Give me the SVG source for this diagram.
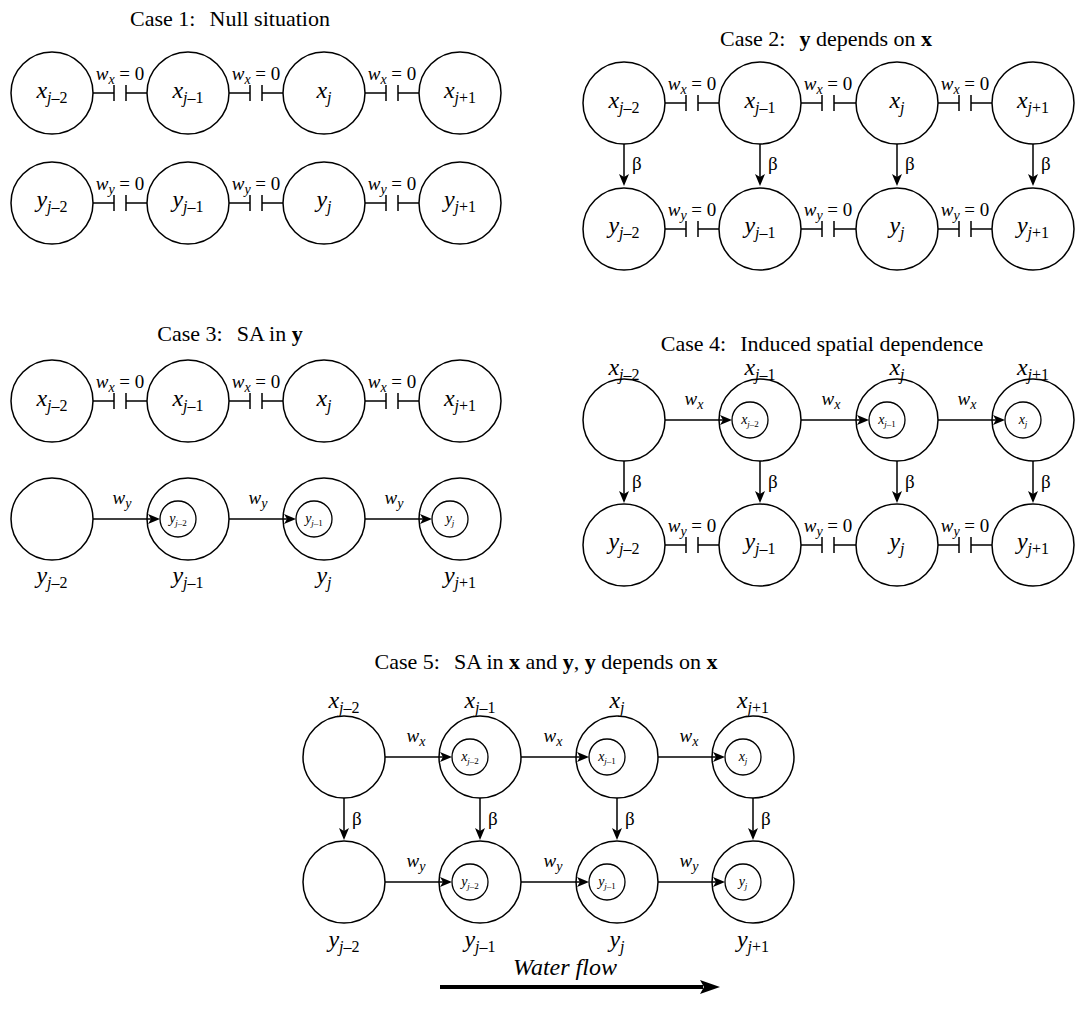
<svg xmlns="http://www.w3.org/2000/svg" width="1075" height="1022" viewBox="0 0 1075 1022">
<style>
.c{fill:none;stroke:#000;stroke-width:1.5}
.ic{fill:none;stroke:#000;stroke-width:1.3}
.e{fill:none;stroke:#000;stroke-width:1.5}
.a{marker-end:url(#ah)}
text{font-family:"Liberation Serif","Times New Roman",serif;fill:#000}
.t{font-size:22px;text-anchor:middle}
.nl{font-size:24px;text-anchor:middle}
.el{font-size:19px;text-anchor:middle}
.bl{font-size:19px}
.il{font-size:14px;text-anchor:middle}
.i{font-style:italic}
.b{font-weight:bold}
.sb{font-size:16px}
.es{font-size:14px}
.is{font-size:9px}
</style>
<defs>
<marker id="ah" markerUnits="userSpaceOnUse" markerWidth="12" markerHeight="10" refX="9" refY="5" orient="auto">
<path d="M0,0 L12,5 L0,10 L3,5 Z" fill="#000"/>
</marker>
<marker id="bh" markerUnits="userSpaceOnUse" markerWidth="20" markerHeight="14" refX="3" refY="7" orient="auto">
<path d="M0,0 L20,7 L0,14 L4,7 Z" fill="#000"/>
</marker>
</defs>

<!-- Titles -->
<g id="titles">
<text class="t" x="230" y="26">Case 1:<tspan dx="14">Null situation</tspan></text>
<text class="t" x="826" y="46">Case 2:<tspan dx="14" class="b">y</tspan> depends on <tspan class="b">x</tspan></text>
<text class="t" x="230" y="341">Case 3:<tspan dx="14">SA in </tspan><tspan class="b">y</tspan></text>
<text class="t" x="822" y="351">Case 4:<tspan dx="14">Induced spatial dependence</tspan></text>
<text class="t" x="546" y="669">Case 5:<tspan dx="14">SA in </tspan><tspan class="b">x</tspan> and <tspan class="b">y</tspan>, <tspan class="b">y</tspan> depends on <tspan class="b">x</tspan></text>
</g>

<!-- Connectors -->
<g id="connectors">
<!-- Case 1 -->
<path class="e" d="M93,93 H114 M114,85 V101 M126,85 V101 M126,93 H147 M229,93 H250 M250,85 V101 M262,85 V101 M262,93 H283 M365,93 H386 M386,85 V101 M398,85 V101 M398,93 H419"/>
<path class="e" d="M93,203 H114 M114,195 V211 M126,195 V211 M126,203 H147 M229,203 H250 M250,195 V211 M262,195 V211 M262,203 H283 M365,203 H386 M386,195 V211 M398,195 V211 M398,203 H419"/>
<!-- Case 2 -->
<path class="e" d="M665,103 H686 M686,95 V111 M698,95 V111 M698,103 H719 M801,103 H822 M822,95 V111 M834,95 V111 M834,103 H856 M938,103 H959 M959,95 V111 M971,95 V111 M971,103 H992"/>
<path class="e" d="M665,229 H686 M686,221 V237 M698,221 V237 M698,229 H719 M801,229 H822 M822,221 V237 M834,221 V237 M834,229 H856 M938,229 H959 M959,221 V237 M971,221 V237 M971,229 H992"/>
<line class="e a" x1="624" y1="144" x2="624" y2="183"/>
<line class="e a" x1="760" y1="144" x2="760" y2="183"/>
<line class="e a" x1="897" y1="144" x2="897" y2="183"/>
<line class="e a" x1="1033" y1="144" x2="1033" y2="183"/>
<!-- Case 3 -->
<path class="e" d="M93,401 H114 M114,393 V409 M126,393 V409 M126,401 H147 M229,401 H250 M250,393 V409 M262,393 V409 M262,401 H283 M365,401 H386 M386,393 V409 M398,393 V409 M398,401 H419"/>
<line class="e a" x1="93" y1="519" x2="157" y2="519"/>
<line class="e a" x1="229" y1="519" x2="293" y2="519"/>
<line class="e a" x1="365" y1="519" x2="429" y2="519"/>
<!-- Case 4 -->
<line class="e a" x1="665" y1="420" x2="729" y2="420"/>
<line class="e a" x1="801" y1="420" x2="866" y2="420"/>
<line class="e a" x1="938" y1="420" x2="1002" y2="420"/>
<line class="e a" x1="624" y1="461" x2="624" y2="500"/>
<line class="e a" x1="760" y1="461" x2="760" y2="500"/>
<line class="e a" x1="897" y1="461" x2="897" y2="500"/>
<line class="e a" x1="1033" y1="461" x2="1033" y2="500"/>
<path class="e" d="M665,545 H686 M686,537 V553 M698,537 V553 M698,545 H719 M801,545 H822 M822,537 V553 M834,537 V553 M834,545 H856 M938,545 H959 M959,537 V553 M971,537 V553 M971,545 H992"/>
<!-- Case 5 -->
<line class="e a" x1="385" y1="757" x2="449" y2="757"/>
<line class="e a" x1="521" y1="757" x2="586" y2="757"/>
<line class="e a" x1="658" y1="757" x2="722" y2="757"/>
<line class="e a" x1="344" y1="798" x2="344" y2="837"/>
<line class="e a" x1="480" y1="798" x2="480" y2="837"/>
<line class="e a" x1="617" y1="798" x2="617" y2="837"/>
<line class="e a" x1="753" y1="798" x2="753" y2="837"/>
<line class="e a" x1="385" y1="882" x2="449" y2="882"/>
<line class="e a" x1="521" y1="882" x2="586" y2="882"/>
<line class="e a" x1="658" y1="882" x2="722" y2="882"/>
<!-- Water flow -->
<line x1="440" y1="987" x2="703" y2="987" stroke="#000" stroke-width="4" marker-end="url(#bh)"/>
</g>

<!-- Connector labels -->
<g id="edge-labels">
<text class="el" x="120" y="80"><tspan class="i">w</tspan><tspan class="es i" dy="4">x</tspan><tspan dy="-4"> = 0</tspan></text>
<text class="el" x="256" y="80"><tspan class="i">w</tspan><tspan class="es i" dy="4">x</tspan><tspan dy="-4"> = 0</tspan></text>
<text class="el" x="392" y="80"><tspan class="i">w</tspan><tspan class="es i" dy="4">x</tspan><tspan dy="-4"> = 0</tspan></text>
<text class="el" x="120" y="190"><tspan class="i">w</tspan><tspan class="es i" dy="4">y</tspan><tspan dy="-4"> = 0</tspan></text>
<text class="el" x="256" y="190"><tspan class="i">w</tspan><tspan class="es i" dy="4">y</tspan><tspan dy="-4"> = 0</tspan></text>
<text class="el" x="392" y="190"><tspan class="i">w</tspan><tspan class="es i" dy="4">y</tspan><tspan dy="-4"> = 0</tspan></text>

<text class="el" x="692" y="90"><tspan class="i">w</tspan><tspan class="es i" dy="4">x</tspan><tspan dy="-4"> = 0</tspan></text>
<text class="el" x="828" y="90"><tspan class="i">w</tspan><tspan class="es i" dy="4">x</tspan><tspan dy="-4"> = 0</tspan></text>
<text class="el" x="965" y="90"><tspan class="i">w</tspan><tspan class="es i" dy="4">x</tspan><tspan dy="-4"> = 0</tspan></text>
<text class="el" x="692" y="216"><tspan class="i">w</tspan><tspan class="es i" dy="4">y</tspan><tspan dy="-4"> = 0</tspan></text>
<text class="el" x="828" y="216"><tspan class="i">w</tspan><tspan class="es i" dy="4">y</tspan><tspan dy="-4"> = 0</tspan></text>
<text class="el" x="965" y="216"><tspan class="i">w</tspan><tspan class="es i" dy="4">y</tspan><tspan dy="-4"> = 0</tspan></text>
<text class="bl" x="632" y="170">β</text>
<text class="bl" x="768" y="170">β</text>
<text class="bl" x="905" y="170">β</text>
<text class="bl" x="1041" y="170">β</text>

<text class="el" x="120" y="388"><tspan class="i">w</tspan><tspan class="es i" dy="4">x</tspan><tspan dy="-4"> = 0</tspan></text>
<text class="el" x="256" y="388"><tspan class="i">w</tspan><tspan class="es i" dy="4">x</tspan><tspan dy="-4"> = 0</tspan></text>
<text class="el" x="392" y="388"><tspan class="i">w</tspan><tspan class="es i" dy="4">x</tspan><tspan dy="-4"> = 0</tspan></text>
<text class="el" x="122" y="504"><tspan class="i">w</tspan><tspan class="es i" dy="4">y</tspan></text>
<text class="el" x="258" y="504"><tspan class="i">w</tspan><tspan class="es i" dy="4">y</tspan></text>
<text class="el" x="394" y="504"><tspan class="i">w</tspan><tspan class="es i" dy="4">y</tspan></text>

<text class="el" x="694" y="405"><tspan class="i">w</tspan><tspan class="es i" dy="4">x</tspan></text>
<text class="el" x="831" y="405"><tspan class="i">w</tspan><tspan class="es i" dy="4">x</tspan></text>
<text class="el" x="967" y="405"><tspan class="i">w</tspan><tspan class="es i" dy="4">x</tspan></text>
<text class="bl" x="632" y="488">β</text>
<text class="bl" x="768" y="488">β</text>
<text class="bl" x="905" y="488">β</text>
<text class="bl" x="1041" y="488">β</text>
<text class="el" x="692" y="532"><tspan class="i">w</tspan><tspan class="es i" dy="4">y</tspan><tspan dy="-4"> = 0</tspan></text>
<text class="el" x="828" y="532"><tspan class="i">w</tspan><tspan class="es i" dy="4">y</tspan><tspan dy="-4"> = 0</tspan></text>
<text class="el" x="965" y="532"><tspan class="i">w</tspan><tspan class="es i" dy="4">y</tspan><tspan dy="-4"> = 0</tspan></text>

<text class="el" x="416" y="742"><tspan class="i">w</tspan><tspan class="es i" dy="4">x</tspan></text>
<text class="el" x="553" y="742"><tspan class="i">w</tspan><tspan class="es i" dy="4">x</tspan></text>
<text class="el" x="689" y="742"><tspan class="i">w</tspan><tspan class="es i" dy="4">x</tspan></text>
<text class="bl" x="352" y="825">β</text>
<text class="bl" x="488" y="825">β</text>
<text class="bl" x="625" y="825">β</text>
<text class="bl" x="761" y="825">β</text>
<text class="el" x="416" y="867"><tspan class="i">w</tspan><tspan class="es i" dy="4">y</tspan></text>
<text class="el" x="553" y="867"><tspan class="i">w</tspan><tspan class="es i" dy="4">y</tspan></text>
<text class="el" x="689" y="867"><tspan class="i">w</tspan><tspan class="es i" dy="4">y</tspan></text>

<text x="565" y="975" font-size="24" font-style="italic" text-anchor="middle">Water flow</text>
</g>

<!-- Case 1 nodes -->
<g id="c1-x-jm2"><circle class="c" cx="52" cy="93" r="41"/><text class="nl" x="52" y="98"><tspan class="i">x</tspan><tspan class="sb i" dy="5">j</tspan><tspan class="sb">–2</tspan></text></g>
<g id="c1-x-jm1"><circle class="c" cx="188" cy="93" r="41"/><text class="nl" x="188" y="98"><tspan class="i">x</tspan><tspan class="sb i" dy="5">j</tspan><tspan class="sb">–1</tspan></text></g>
<g id="c1-x-j"><circle class="c" cx="324" cy="93" r="41"/><text class="nl" x="324" y="98"><tspan class="i">x</tspan><tspan class="sb i" dy="5">j</tspan></text></g>
<g id="c1-x-jp1"><circle class="c" cx="460" cy="93" r="41"/><text class="nl" x="460" y="98"><tspan class="i">x</tspan><tspan class="sb i" dy="5">j</tspan><tspan class="sb">+1</tspan></text></g>
<g id="c1-y-jm2"><circle class="c" cx="52" cy="203" r="41"/><text class="nl" x="52" y="207"><tspan class="i">y</tspan><tspan class="sb i" dy="5">j</tspan><tspan class="sb">–2</tspan></text></g>
<g id="c1-y-jm1"><circle class="c" cx="188" cy="203" r="41"/><text class="nl" x="188" y="207"><tspan class="i">y</tspan><tspan class="sb i" dy="5">j</tspan><tspan class="sb">–1</tspan></text></g>
<g id="c1-y-j"><circle class="c" cx="324" cy="203" r="41"/><text class="nl" x="324" y="207"><tspan class="i">y</tspan><tspan class="sb i" dy="5">j</tspan></text></g>
<g id="c1-y-jp1"><circle class="c" cx="460" cy="203" r="41"/><text class="nl" x="460" y="207"><tspan class="i">y</tspan><tspan class="sb i" dy="5">j</tspan><tspan class="sb">+1</tspan></text></g>

<!-- Case 2 nodes -->
<g id="c2-x-jm2"><circle class="c" cx="624" cy="103" r="41"/><text class="nl" x="624" y="108"><tspan class="i">x</tspan><tspan class="sb i" dy="5">j</tspan><tspan class="sb">–2</tspan></text></g>
<g id="c2-x-jm1"><circle class="c" cx="760" cy="103" r="41"/><text class="nl" x="760" y="108"><tspan class="i">x</tspan><tspan class="sb i" dy="5">j</tspan><tspan class="sb">–1</tspan></text></g>
<g id="c2-x-j"><circle class="c" cx="897" cy="103" r="41"/><text class="nl" x="897" y="108"><tspan class="i">x</tspan><tspan class="sb i" dy="5">j</tspan></text></g>
<g id="c2-x-jp1"><circle class="c" cx="1033" cy="103" r="41"/><text class="nl" x="1033" y="108"><tspan class="i">x</tspan><tspan class="sb i" dy="5">j</tspan><tspan class="sb">+1</tspan></text></g>
<g id="c2-y-jm2"><circle class="c" cx="624" cy="229" r="41"/><text class="nl" x="624" y="233"><tspan class="i">y</tspan><tspan class="sb i" dy="5">j</tspan><tspan class="sb">–2</tspan></text></g>
<g id="c2-y-jm1"><circle class="c" cx="760" cy="229" r="41"/><text class="nl" x="760" y="233"><tspan class="i">y</tspan><tspan class="sb i" dy="5">j</tspan><tspan class="sb">–1</tspan></text></g>
<g id="c2-y-j"><circle class="c" cx="897" cy="229" r="41"/><text class="nl" x="897" y="233"><tspan class="i">y</tspan><tspan class="sb i" dy="5">j</tspan></text></g>
<g id="c2-y-jp1"><circle class="c" cx="1033" cy="229" r="41"/><text class="nl" x="1033" y="233"><tspan class="i">y</tspan><tspan class="sb i" dy="5">j</tspan><tspan class="sb">+1</tspan></text></g>

<!-- Case 3 nodes -->
<g id="c3-x-jm2"><circle class="c" cx="52" cy="401" r="41"/><text class="nl" x="52" y="406"><tspan class="i">x</tspan><tspan class="sb i" dy="5">j</tspan><tspan class="sb">–2</tspan></text></g>
<g id="c3-x-jm1"><circle class="c" cx="188" cy="401" r="41"/><text class="nl" x="188" y="406"><tspan class="i">x</tspan><tspan class="sb i" dy="5">j</tspan><tspan class="sb">–1</tspan></text></g>
<g id="c3-x-j"><circle class="c" cx="324" cy="401" r="41"/><text class="nl" x="324" y="406"><tspan class="i">x</tspan><tspan class="sb i" dy="5">j</tspan></text></g>
<g id="c3-x-jp1"><circle class="c" cx="460" cy="401" r="41"/><text class="nl" x="460" y="406"><tspan class="i">x</tspan><tspan class="sb i" dy="5">j</tspan><tspan class="sb">+1</tspan></text></g>
<g id="c3-y-jm2"><circle class="c" cx="52" cy="519" r="41"/><text class="nl" x="52" y="583"><tspan class="i">y</tspan><tspan class="sb i" dy="5">j</tspan><tspan class="sb">–2</tspan></text></g>
<g id="c3-y-jm1"><circle class="c" cx="188" cy="519" r="41"/><circle class="ic" cx="178" cy="519" r="18"/><text class="il" x="178" y="523"><tspan class="i">y</tspan><tspan class="is i" dy="3">j</tspan><tspan class="is">–2</tspan></text><text class="nl" x="188" y="583"><tspan class="i">y</tspan><tspan class="sb i" dy="5">j</tspan><tspan class="sb">–1</tspan></text></g>
<g id="c3-y-j"><circle class="c" cx="324" cy="519" r="41"/><circle class="ic" cx="314" cy="519" r="18"/><text class="il" x="314" y="523"><tspan class="i">y</tspan><tspan class="is i" dy="3">j</tspan><tspan class="is">–1</tspan></text><text class="nl" x="324" y="583"><tspan class="i">y</tspan><tspan class="sb i" dy="5">j</tspan></text></g>
<g id="c3-y-jp1"><circle class="c" cx="460" cy="519" r="41"/><circle class="ic" cx="450" cy="519" r="18"/><text class="il" x="450" y="523"><tspan class="i">y</tspan><tspan class="is i" dy="3">j</tspan></text><text class="nl" x="460" y="583"><tspan class="i">y</tspan><tspan class="sb i" dy="5">j</tspan><tspan class="sb">+1</tspan></text></g>

<!-- Case 4 nodes -->
<g id="c4-x-jm2"><circle class="c" cx="624" cy="420" r="41"/><text class="nl" x="624" y="375"><tspan class="i">x</tspan><tspan class="sb i" dy="5">j</tspan><tspan class="sb">–2</tspan></text></g>
<g id="c4-x-jm1"><circle class="c" cx="760" cy="420" r="41"/><circle class="ic" cx="750" cy="420" r="18"/><text class="il" x="750" y="424"><tspan class="i">x</tspan><tspan class="is i" dy="3">j</tspan><tspan class="is">–2</tspan></text><text class="nl" x="760" y="375"><tspan class="i">x</tspan><tspan class="sb i" dy="5">j</tspan><tspan class="sb">–1</tspan></text></g>
<g id="c4-x-j"><circle class="c" cx="897" cy="420" r="41"/><circle class="ic" cx="887" cy="420" r="18"/><text class="il" x="887" y="424"><tspan class="i">x</tspan><tspan class="is i" dy="3">j</tspan><tspan class="is">–1</tspan></text><text class="nl" x="897" y="375"><tspan class="i">x</tspan><tspan class="sb i" dy="5">j</tspan></text></g>
<g id="c4-x-jp1"><circle class="c" cx="1033" cy="420" r="41"/><circle class="ic" cx="1023" cy="420" r="18"/><text class="il" x="1023" y="424"><tspan class="i">x</tspan><tspan class="is i" dy="3">j</tspan></text><text class="nl" x="1033" y="375"><tspan class="i">x</tspan><tspan class="sb i" dy="5">j</tspan><tspan class="sb">+1</tspan></text></g>
<g id="c4-y-jm2"><circle class="c" cx="624" cy="545" r="41"/><text class="nl" x="624" y="549"><tspan class="i">y</tspan><tspan class="sb i" dy="5">j</tspan><tspan class="sb">–2</tspan></text></g>
<g id="c4-y-jm1"><circle class="c" cx="760" cy="545" r="41"/><text class="nl" x="760" y="549"><tspan class="i">y</tspan><tspan class="sb i" dy="5">j</tspan><tspan class="sb">–1</tspan></text></g>
<g id="c4-y-j"><circle class="c" cx="897" cy="545" r="41"/><text class="nl" x="897" y="549"><tspan class="i">y</tspan><tspan class="sb i" dy="5">j</tspan></text></g>
<g id="c4-y-jp1"><circle class="c" cx="1033" cy="545" r="41"/><text class="nl" x="1033" y="549"><tspan class="i">y</tspan><tspan class="sb i" dy="5">j</tspan><tspan class="sb">+1</tspan></text></g>

<!-- Case 5 nodes -->
<g id="c5-x-jm2"><circle class="c" cx="344" cy="757" r="41"/><text class="nl" x="344" y="708"><tspan class="i">x</tspan><tspan class="sb i" dy="5">j</tspan><tspan class="sb">–2</tspan></text></g>
<g id="c5-x-jm1"><circle class="c" cx="480" cy="757" r="41"/><circle class="ic" cx="470" cy="757" r="18"/><text class="il" x="470" y="761"><tspan class="i">x</tspan><tspan class="is i" dy="3">j</tspan><tspan class="is">–2</tspan></text><text class="nl" x="480" y="708"><tspan class="i">x</tspan><tspan class="sb i" dy="5">j</tspan><tspan class="sb">–1</tspan></text></g>
<g id="c5-x-j"><circle class="c" cx="617" cy="757" r="41"/><circle class="ic" cx="607" cy="757" r="18"/><text class="il" x="607" y="761"><tspan class="i">x</tspan><tspan class="is i" dy="3">j</tspan><tspan class="is">–1</tspan></text><text class="nl" x="617" y="708"><tspan class="i">x</tspan><tspan class="sb i" dy="5">j</tspan></text></g>
<g id="c5-x-jp1"><circle class="c" cx="753" cy="757" r="41"/><circle class="ic" cx="743" cy="757" r="18"/><text class="il" x="743" y="761"><tspan class="i">x</tspan><tspan class="is i" dy="3">j</tspan></text><text class="nl" x="753" y="708"><tspan class="i">x</tspan><tspan class="sb i" dy="5">j</tspan><tspan class="sb">+1</tspan></text></g>
<g id="c5-y-jm2"><circle class="c" cx="344" cy="882" r="41"/><text class="nl" x="344" y="947"><tspan class="i">y</tspan><tspan class="sb i" dy="5">j</tspan><tspan class="sb">–2</tspan></text></g>
<g id="c5-y-jm1"><circle class="c" cx="480" cy="882" r="41"/><circle class="ic" cx="470" cy="882" r="18"/><text class="il" x="470" y="886"><tspan class="i">y</tspan><tspan class="is i" dy="3">j</tspan><tspan class="is">–2</tspan></text><text class="nl" x="480" y="947"><tspan class="i">y</tspan><tspan class="sb i" dy="5">j</tspan><tspan class="sb">–1</tspan></text></g>
<g id="c5-y-j"><circle class="c" cx="617" cy="882" r="41"/><circle class="ic" cx="607" cy="882" r="18"/><text class="il" x="607" y="886"><tspan class="i">y</tspan><tspan class="is i" dy="3">j</tspan><tspan class="is">–1</tspan></text><text class="nl" x="617" y="947"><tspan class="i">y</tspan><tspan class="sb i" dy="5">j</tspan></text></g>
<g id="c5-y-jp1"><circle class="c" cx="753" cy="882" r="41"/><circle class="ic" cx="743" cy="882" r="18"/><text class="il" x="743" y="886"><tspan class="i">y</tspan><tspan class="is i" dy="3">j</tspan></text><text class="nl" x="753" y="947"><tspan class="i">y</tspan><tspan class="sb i" dy="5">j</tspan><tspan class="sb">+1</tspan></text></g>
</svg>
